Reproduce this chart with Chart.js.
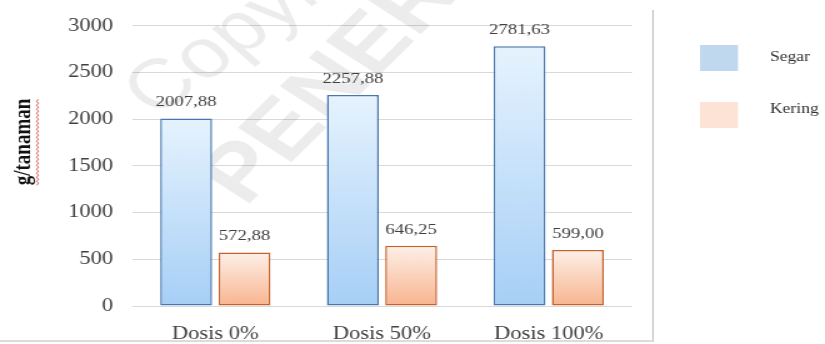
<!DOCTYPE html>
<html>
<head>
<meta charset="utf-8">
<script src="https://cdn.jsdelivr.net/npm/chart.js@4/dist/chart.umd.min.js"></script>
<style>
    html, body { margin: 0; padding: 0; background: #fff; }
    #wrap { position: relative; width: 825px; height: 344px; overflow: hidden; }
    #bingkai {
        position: absolute; left: 0; top: 10px; width: 652px; height: 330px;
        border-right: 2px solid #d6d6d6; border-bottom: 2px solid #dcdcdc;
    }
    /* kanvas digambar sempit lalu dilebarkan 1,25x */
    #kotak { position: absolute; left: 0; top: 0; width: 660px; height: 344px; transform: scaleX(1.25); transform-origin: 0 0; }
</style>
</head>
<body>
<div id="wrap">
    <div id="bingkai"></div>
    <div id="kotak"><canvas id="grafikBerat"></canvas></div>
</div>
<script>
const kategori = ['Dosis 0%', 'Dosis 50%', 'Dosis 100%'];
const segar = [2007.88, 2257.88, 2781.63];
const kering = [572.88, 646.25, 599.00];
const labelSeri = ['Segar', 'Kering'];
const judulY = 'g/tanaman';

const serif = '"Liberation Serif", "Times New Roman", serif';

function gradienBatang(atas, bawah) {
    return function (ctx) {
        const chart = ctx.chart;
        const y = chart.scales.y;
        if (!chart.chartArea || !y || ctx.raw === undefined) return bawah;
        const y0 = y.getPixelForValue(ctx.raw);
        const y1 = y.getPixelForValue(0);
        const g = chart.ctx.createLinearGradient(0, y0, 0, y1);
        g.addColorStop(0, atas);
        g.addColorStop(1, bawah);
        return g;
    };
}

function angka(v) {
    return v.toFixed(2).replace('.', ',');
}

// label nilai di atas batang, legenda, judul sumbu dan tanda air
const hiasan = {
    id: 'hiasan',
    beforeDatasetsDraw(chart) {
        const c = chart.ctx;
        c.save();
        c.fillStyle = 'rgba(0,0,0,0.075)';
        c.textBaseline = 'middle';
        c.textAlign = 'left';
        c.save();
        c.translate(130, 88);
        c.rotate(-42 * Math.PI / 180);
        c.font = '300 70px "DejaVu Sans ExtraLight", "Liberation Sans", sans-serif';
        c.fillText('Copyright', -25, 0);
        c.restore();
        c.save();
        c.translate(196, 173);
        c.rotate(-51 * Math.PI / 180);
        c.font = 'bold 80px "Liberation Sans", sans-serif';
        c.fillText('PENERBIT', -27, 0);
        c.restore();
        c.restore();
    },
    afterDatasetsDraw(chart) {
        const c = chart.ctx;
        c.save();
        c.font = '15px ' + serif;
        c.fillStyle = '#404040';
        c.textAlign = 'center';
        c.textBaseline = 'alphabetic';
        chart.data.datasets.forEach((ds, i) => {
            chart.getDatasetMeta(i).data.forEach((bar, j) => {
                c.fillText(angka(ds.data[j]), bar.x, bar.y - 12);
            });
        });
        c.restore();
    },
    afterDraw(chart) {
        const c = chart.ctx;
        c.save();
        // legenda
        const posY = [45, 102];
        chart.data.datasets.forEach((ds, i) => {
            c.fillStyle = ds.warnaLegenda;
            c.fillRect(560, posY[i], 30.4, 26);
            c.fillStyle = '#303030';
            c.font = '14px ' + serif;
            c.textAlign = 'left';
            c.textBaseline = 'middle';
            c.fillText(ds.label, 616, posY[i] + (i === 0 ? 12 : 7));
        });
        // judul sumbu y
        c.translate(19.5, 142);
        c.rotate(-Math.PI / 2);
        c.font = 'bold 19px ' + serif;
        c.fillStyle = '#111';
        c.textAlign = 'center';
        c.textBaseline = 'middle';
        c.fillText(judulY, 0, 0);
        const lebar = c.measureText(judulY).width;
        c.strokeStyle = '#d03030';
        c.lineWidth = 0.8;
        c.beginPath();
        for (let x = -lebar / 2; x <= lebar / 2; x += 2) {
            const yy = 10 + ((Math.round((x + lebar / 2) / 2) % 2) ? 1.2 : -0.2);
            if (x === -lebar / 2) c.moveTo(x, yy); else c.lineTo(x, yy);
        }
        c.stroke();
        c.restore();
    }
};

new Chart(document.getElementById('grafikBerat'), {
    type: 'bar',
    data: {
        labels: kategori,
        datasets: [{
            label: labelSeri[0],
            data: segar,
            backgroundColor: gradienBatang('#e6f3fe', '#a6cff6'),
            borderColor: '#4877ad',
            borderWidth: 1.5,
            borderSkipped: false,
            warnaLegenda: '#c0d8ee',
            barPercentage: 0.89,
            categoryPercentage: 0.7
        }, {
            label: labelSeri[1],
            data: kering,
            backgroundColor: gradienBatang('#fdf0e8', '#f8b48f'),
            borderColor: '#c4622e',
            borderWidth: 1.5,
            borderSkipped: false,
            warnaLegenda: '#fce3d5',
            barPercentage: 0.89,
            categoryPercentage: 0.7
        }]
    },
    options: {
        responsive: true,
        maintainAspectRatio: false,
        animation: false,
        devicePixelRatio: 1,
        layout: { padding: { top: 25, right: 154.4, bottom: 0, left: 0 } },
        plugins: {
            legend: { display: false },
            tooltip: { enabled: false }
        },
        scales: {
            x: {
                afterFit(s) { s.height = 38; },
                grid: { display: false, drawTicks: false },
                border: { display: false },
                ticks: { color: '#404040', font: { family: serif, size: 18 }, padding: 17, maxRotation: 0 }
            },
            y: {
                min: 0,
                max: 3000,
                afterFit(s) { s.width = 105.6; },
                grid: { color: '#d9d9d9', lineWidth: 1, drawTicks: false },
                border: { display: false },
                ticks: {
                    stepSize: 500,
                    color: '#404040',
                    font: { family: serif, size: 18 },
                    padding: 15,
                    callback: v => String(v)
                }
            }
        }
    },
    plugins: [hiasan]
});
</script>
</body>
</html>
